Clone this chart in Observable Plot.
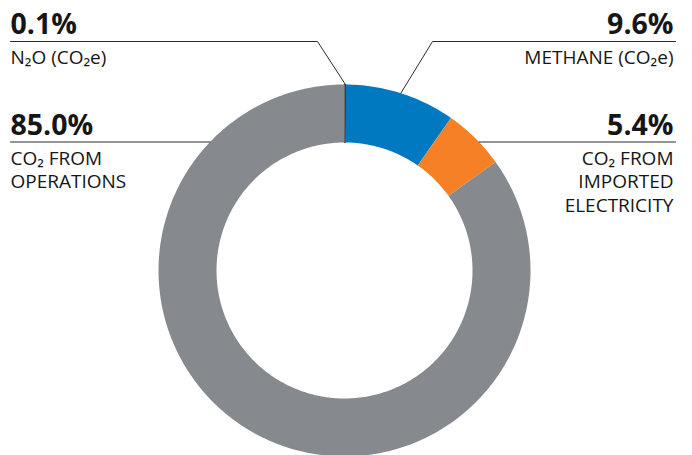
<!DOCTYPE html>
<html>
<head>
<meta charset="utf-8">
<script src="https://cdn.jsdelivr.net/npm/d3@7"></script>
<script src="https://cdn.jsdelivr.net/npm/@observablehq/plot@0.6"></script>
<style>
  html, body { margin: 0; padding: 0; background: #fff; }
  #chart svg { display: block; }
</style>
</head>
<body>
<div id="chart"></div>
<script>
// ---- data ----
const categories = ["N₂O (CO₂e)", "METHANE (CO₂e)", "CO₂ FROM IMPORTED ELECTRICITY", "CO₂ FROM OPERATIONS"];
const values = [0.1, 9.6, 5.4, 85.0];
const percentLabels = ["0.1%", "9.6%", "5.4%", "85.0%"];
const labelLines = ["N₂O (CO₂e)", "METHANE (CO₂e)", "CO₂ FROM\nIMPORTED\nELECTRICITY", "CO₂ FROM\nOPERATIONS"];
const colors = ["#231f20", "#0079c1", "#f58025", "#868a8f"];

// ---- layout ----
const W = 692, H = 455;
const cx = 344, cy = 270, R = 186;       // pixels
const innerRatio = 128 / 186;
// data units: 1 = outer radius, origin at donut centre
const X = px => (px - cx) / R;
const Y = py => (cy - py) / R;

const pie = d3.pie().sort(null).value(d => d)(values);

function slicePolygon(s, i) {
  const pts = [];
  const n = Math.max(2, Math.ceil((s.endAngle - s.startAngle) * 180 / Math.PI));
  for (let k = 0; k <= n; k++) {
    const a = s.startAngle + (s.endAngle - s.startAngle) * k / n;
    pts.push({x: Math.sin(a), y: Math.cos(a), key: categories[i]});
  }
  for (let k = n; k >= 0; k--) {
    const a = s.startAngle + (s.endAngle - s.startAngle) * k / n;
    pts.push({x: innerRatio * Math.sin(a), y: innerRatio * Math.cos(a), key: categories[i]});
  }
  return pts;
}

const sliceMarks = pie.map((s, i) =>
  Plot.line(slicePolygon(s, i), {
    x: "x", y: "y", fill: colors[i],
    stroke: i === 0 ? colors[i] : "none", strokeWidth: i === 0 ? 1 : 0,
    curve: "linear-closed"
  })
);

const mid = s => (s.startAngle + s.endAngle) / 2;
const onRing = (a, r = 1) => ({x: r * Math.sin(a), y: r * Math.cos(a)});

// leader lines
const ruleTop = Y(41), ruleMid = Y(141.5);
const leftX = X(10), rightX = X(675);
const n2oAnchor = onRing(mid(pie[0]), 1.003);
const methAnchor = onRing(mid(pie[1]), 1.0);
const leaders = [
  [{x: leftX, y: ruleTop}, {x: X(317), y: ruleTop}, n2oAnchor],
  [methAnchor, {x: X(432), y: ruleTop}, {x: rightX, y: ruleTop}],
  [{x: Math.sqrt(1 - ruleMid * ruleMid), y: ruleMid}, {x: rightX, y: ruleMid}],
  [{x: leftX, y: ruleMid}, {x: -Math.sqrt(1 - ruleMid * ruleMid), y: ruleMid}]
];
const leaderMarks = leaders.map(pts =>
  Plot.line(pts, {x: "x", y: "y", stroke: "#2b2b2b", strokeWidth: 1})
);

// label positions (layout)
const pctPos = [
  {x: X(10), y: Y(33.5), anchor: "start"},
  {x: X(673), y: Y(33.5), anchor: "end"},
  {x: X(673), y: Y(134), anchor: "end"},
  {x: X(10), y: Y(134), anchor: "start"}
];
const namePos = [
  {x: X(10), y: Y(63), anchor: "start"},
  {x: X(673), y: Y(63), anchor: "end"},
  {x: X(673), y: Y(211), anchor: "end"},
  {x: X(10), y: Y(187.5), anchor: "start"}
];

const pctMarks = pctPos.map((p, i) =>
  Plot.text([percentLabels[i]], {
    x: () => p.x, y: () => p.y, text: d => d, textAnchor: p.anchor, lineAnchor: "bottom",
    fontSize: 28.5, fontWeight: 700, fill: "#161616", fontFamily: "Open Sans"
  })
);
const nameMarks = namePos.map((p, i) =>
  Plot.text([labelLines[i]], {
    x: () => p.x, y: () => p.y, text: d => d, textAnchor: p.anchor, lineAnchor: "bottom",
    fontSize: 19, lineHeight: 1.22, fill: "#161616", fontFamily: "Open Sans"
  })
);

const chart = Plot.plot({
  width: W, height: H,
  margin: 0,
  x: {domain: [X(0), X(W)], range: [0, W], axis: null},
  y: {domain: [Y(H), Y(0)], range: [H, 0], axis: null},
  style: {background: "#fff", fontFamily: "Open Sans"},
  marks: [
    ...sliceMarks,
    ...leaderMarks,
    ...pctMarks,
    ...nameMarks
  ]
});
document.getElementById("chart").append(chart);
</script>
</body>
</html>
